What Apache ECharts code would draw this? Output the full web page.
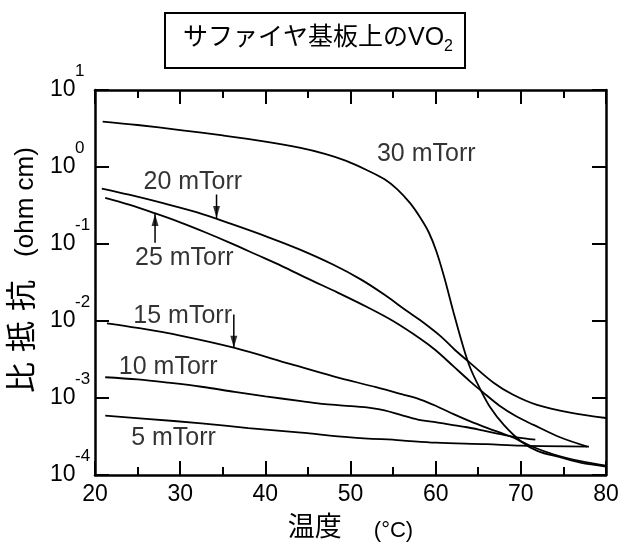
<!DOCTYPE html>
<html><head><meta charset="utf-8">
<script src="https://cdn.jsdelivr.net/npm/echarts@6/dist/echarts.min.js"></script>
<style>html,body{margin:0;padding:0;background:#fff}#c{width:625px;height:547px}</style>
</head><body><div id="c"></div>
<script>
const FONT = '"Liberation Sans","Noto Sans CJK JP",sans-serif';

// ---- data (temperature in °C, resistivity in ohm cm) ----
const temp30 = [20.9, 25, 30, 35, 40, 44, 47, 49.5, 52, 54, 55.5, 57, 58.2, 59.2, 60.1, 61, 62.1, 63.3, 64.1, 65.3, 66.4, 68, 70, 72, 74.6, 77, 80];
const rho30  = [3.89, 3.51, 3.02, 2.57, 2.14, 1.78, 1.48, 1.20, 0.902, 0.692, 0.513, 0.339, 0.219, 0.141, 0.0794, 0.0372, 0.0129, 0.00437, 0.0024, 0.00126, 0.000759, 0.000447, 0.000275, 0.000204, 0.00017, 0.000145, 0.000129];

const temp20 = [20.8, 24, 28, 32, 36, 40.3, 44, 48, 51.2, 54, 56.5, 58.2, 60.6, 62.3, 64.1, 66.8, 69.1, 71.9, 75.8, 80];
const rho20  = [0.525, 0.437, 0.339, 0.257, 0.182, 0.123, 0.0851, 0.0537, 0.0347, 0.0219, 0.0138, 0.0102, 0.00631, 0.00417, 0.00282, 0.00158, 0.0011, 0.000813, 0.000646, 0.00055];

const temp25 = [21.2, 24, 27, 30, 33, 36, 39, 42, 45, 48.5, 52, 55, 58.2, 60, 62.1, 64, 65.5, 67.5, 69.5, 71.5, 74.6, 77.8];
const rho25  = [0.398, 0.324, 0.251, 0.191, 0.141, 0.102, 0.0724, 0.0513, 0.0355, 0.0234, 0.0151, 0.01, 0.00589, 0.00417, 0.00257, 0.00166, 0.0012, 0.000794, 0.000575, 0.000447, 0.000309, 0.000234];

const temp15 = [21.4, 25, 30, 36.4, 43, 48, 53, 56, 58.2, 60, 62.1, 64, 66.1, 68.8, 71.1, 73.8, 77, 80];
const rho15  = [0.00933, 0.00813, 0.00646, 0.00447, 0.00275, 0.00191, 0.00138, 0.00112, 0.000955, 0.000794, 0.000617, 0.000501, 0.000407, 0.000316, 0.00024, 0.000186, 0.000151, 0.000132];

const temp10 = [21.2, 25, 28.6, 32.5, 36.4, 40, 44.2, 47, 50.1, 52.5, 54, 55.9, 57.9, 59.8, 61.7, 63.7, 65.5, 67.6, 69.5, 71.7];
const rho10  = [0.00186, 0.00174, 0.00158, 0.0014, 0.0012, 0.00105, 0.000912, 0.000832, 0.000785, 0.000741, 0.000692, 0.000603, 0.000525, 0.00049, 0.000452, 0.000417, 0.00038, 0.000339, 0.000309, 0.000288];

const temp5 = [21.2, 26, 32.5, 38, 44.2, 50, 55.9, 60, 66, 70, 78];
const rho5  = [0.000589, 0.000537, 0.000468, 0.000407, 0.000355, 0.000309, 0.000282, 0.000263, 0.000251, 0.00024, 0.000234];

// curve annotations
const noteText = ['30 mTorr', '20 mTorr', '25 mTorr', '15 mTorr', '10 mTorr', '5 mTorr'];
const noteX    = [53.1, 25.7, 24.7, 24.5, 22.8, 24.25];
const noteY    = [1.476, 0.628, 0.065, 0.0116, 0.0025, 0.000297];

// arrows: [x, from, to(tip)]
const arrowX    = [34.27, 27.05, 36.3];
const arrowFrom = [0.441, 0.104, 0.01213];
const arrowTo   = [0.218, 0.245, 0.0045];

const xTicks = [20, 80, 10];
const yRange = [1e-4, 10];

function zip(a, b) { return a.map((v, i) => [v, b[i]]); }

const curveSets = [[temp30, rho30], [temp20, rho20], [temp25, rho25], [temp15, rho15], [temp10, rho10], [temp5, rho5]];
const series = curveSets.map(c => ({
  type: 'line', data: zip(c[0], c[1]), showSymbol: false, smooth: 0.35,
  lineStyle: { color: '#000', width: 1.8 }, silent: true, xAxisIndex: 0, yAxisIndex: 0
}));

// arrow shafts + heads
arrowX.forEach((x, i) => {
  series.push({
    type: 'line', data: [[x, arrowFrom[i]], [x, arrowTo[i]]], showSymbol: false,
    lineStyle: { color: '#000', width: 1.5 }, silent: true
  });
  const down = arrowTo[i] < arrowFrom[i];
  series.push({
    type: 'scatter', data: [[x, arrowTo[i]]],
    symbol: down ? 'path://M0,0 L10,0 L5,18 Z' : 'path://M5,0 L10,18 L0,18 Z',
    symbolSize: [7, 12], symbolOffset: [0, down ? -6 : 6],
    itemStyle: { color: '#000' }, silent: true
  });
});

series.push({
  type: 'scatter', symbolSize: 0,
  data: noteText.map((t, i) => ({ name: t, value: [noteX[i], noteY[i]] })),
  label: { show: true, position: 'right', distance: 0, formatter: '{b}', color: '#000', fontSize: 25, fontFamily: FONT },
  silent: true
});

const tickStyle = { color: '#000', width: 2 };
const baseX = {
  type: 'value', min: xTicks[0], max: xTicks[1], interval: xTicks[2],
  axisLine: { show: true, onZero: false, lineStyle: { color: '#000', width: 2.5 } },
  axisTick: { show: true, inside: true, length: 14, lineStyle: tickStyle },
  minorTick: { show: true, splitNumber: 2, length: 8, lineStyle: tickStyle },
  splitLine: { show: false }
};
const baseY = {
  type: 'log', logBase: 10, min: yRange[0], max: yRange[1],
  axisLine: { show: true, onZero: false, lineStyle: { color: '#000', width: 2.5 } },
  axisTick: { show: true, inside: true, length: 14, lineStyle: tickStyle },
  splitLine: { show: false }
};

const chart = echarts.init(document.getElementById('c'));
chart.setOption({
  animation: false,
  backgroundColor: '#fff',
  title: {
    text: '{a|サファイヤ基板上のVO}{s|2}',
    left: 165, top: 8, padding: [13, 12, 13, 18],
    borderColor: '#000', borderWidth: 2,
    textStyle: {
      fontWeight: 'normal',
      rich: {
        a: { fontSize: 25, lineHeight: 34, fontFamily: FONT, color: '#000', fontWeight: 'normal' },
        s: { fontSize: 16, lineHeight: 18, verticalAlign: 'bottom', fontFamily: FONT, color: '#000', fontWeight: 'normal' }
      }
    }
  },
  grid: { left: 93, right: 19, top: 90, bottom: 66, containLabel: false },
  xAxis: [
    Object.assign({}, baseX, {
      position: 'bottom',
      axisLabel: { color: '#000', fontSize: 23, fontFamily: FONT, margin: 8 },
      name: '{a|温度}{s| }{b|(°C)}', nameLocation: 'middle', nameGap: 40,
      nameTextStyle: { rich: {
        a: { fontSize: 27, fontFamily: FONT, color: '#000' },
        s: { width: 32 },
        b: { fontSize: 22, fontFamily: FONT, color: '#000', verticalAlign: 'bottom' }
      } }
    }),
    Object.assign({}, baseX, { position: 'top', axisLabel: { show: false } })
  ],
  yAxis: [
    Object.assign({}, baseY, {
      position: 'left',
      axisLabel: {
        align: 'left', margin: 45, color: '#000',
        formatter: v => '{gap| }{e|' + Math.round(Math.log10(v)) + '}\n{b|10}\n{z| }',
        rich: {
          gap: { width: 25, fontSize: 10, lineHeight: 16 },
          e: { fontSize: 17, lineHeight: 16, fontFamily: FONT, color: '#000' },
          b: { fontSize: 23, lineHeight: 21, fontFamily: FONT, color: '#000' },
          z: { fontSize: 10, lineHeight: 16 }
        }
      },
      name: '{sp| }{a|比}{g| }{a|抵}{g| }{a|抗}{s| }{b|(ohm cm)}',
      nameLocation: 'middle', nameRotate: 90, nameGap: 56,
      nameTextStyle: { rich: {
        sp: { width: 25 },
        a: { fontSize: 31, fontFamily: FONT, color: '#000' },
        g: { width: 10 },
        s: { width: 23 },
        b: { fontSize: 26, fontFamily: FONT, color: '#000', verticalAlign: 'bottom' }
      } }
    }),
    Object.assign({}, baseY, { position: 'right', axisLabel: { show: false } })
  ],
  series: series
});
</script></body></html>
